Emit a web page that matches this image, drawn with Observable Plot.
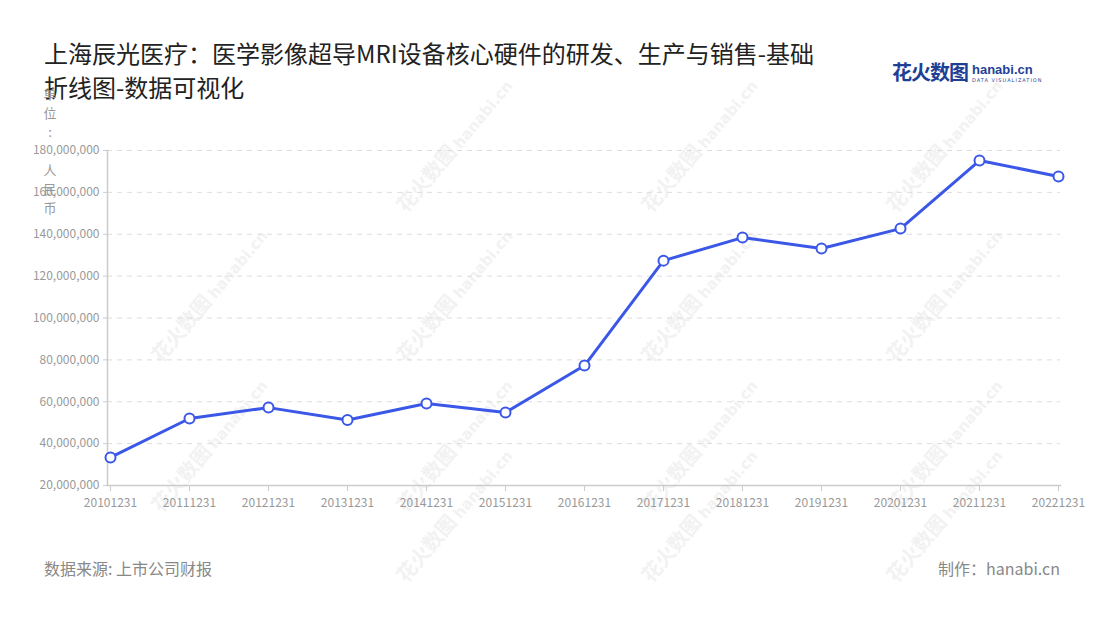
<!DOCTYPE html>
<html>
<head>
<meta charset="utf-8">
<script src="https://cdn.jsdelivr.net/npm/d3@7"></script>
<script src="https://cdn.jsdelivr.net/npm/@observablehq/plot@0.6"></script>
<style>
  body { margin: 0; background: #fff; font-family: "Noto Sans CJK SC", "Noto Sans", sans-serif; }
  #wrap { position: relative; width: 1100px; height: 620px; overflow: hidden; background: #fff; }
  #title { position: absolute; left: 44px; top: 36px; width: 790px; font-size: 24px; line-height: 34px; color: #222; }
  #unit { position: absolute; left: 42px; top: 84px; width: 16px; font-size: 13px; line-height: 19px; color: #999; text-align: center; z-index: 2; }
  #logo { position: absolute; left: 892px; top: 60px; white-space: nowrap; }
  #logo .cn { font-size: 20px; font-weight: 700; color: #1f3f95; letter-spacing: -1px; vertical-align: top; line-height: 24px; }
  #logo .en { display: inline-block; vertical-align: top; margin-left: 4px; margin-top: 3px; }
  #logo .en1 { font-family: "Liberation Sans", sans-serif; font-size: 13px; font-weight: bold; color: #1f3f95; line-height: 13px; }
  #logo .en2 { font-family: "DejaVu Sans", sans-serif; font-size: 5px; color: #1f3f95; letter-spacing: 1px; line-height: 8px; }
  #chart { position: absolute; left: 0; top: 110px; }
  #src { position: absolute; left: 44px; top: 556px; font-size: 16px; color: #888; }
  #made { position: absolute; right: 40px; top: 556px; font-size: 16px; color: #888; }
  .wm { position: absolute; color: #f2f2f2; font-size: 20px; font-weight: 700; transform: rotate(-50deg); white-space: nowrap; z-index: 0; }
  .wm span { font-family: "DejaVu Sans", sans-serif; font-size: 15px; font-weight: bold; margin-left: 4px; }
</style>
</head>
<body>
<div id="wrap">
  <div id="title"></div>
  <div id="logo"><span class="cn">花火数图</span><span class="en"><div class="en1">hanabi.cn</div><div class="en2">DATA VISUALIZATION</div></span></div>
  <div id="wm"></div>
  <div id="chart"></div>
  <div id="unit"></div>
  <div id="src"></div>
  <div id="made"></div>
</div>
<script>
const titleText = "上海辰光医疗：医学影像超导MRI设备核心硬件的研发、生产与销售-基础折线图-数据可视化";
const unitText = ["单", "位", ":", "\u00a0", "人", "民", "币"];
const sourceText = "数据来源: 上市公司财报";
const madeText = "制作：hanabi.cn";

const dates = ["20101231","20111231","20121231","20131231","20141231","20151231","20161231","20171231","20181231","20191231","20201231","20211231","20221231"];
const values = [33400000, 52000000, 57200000, 51300000, 59200000, 54900000, 77300000, 127400000, 138400000, 133200000, 142700000, 175200000, 167600000];
const yTicks = [20000000, 40000000, 60000000, 80000000, 100000000, 120000000, 140000000, 160000000, 180000000];

document.getElementById("title").textContent = titleText;
document.getElementById("unit").innerHTML = unitText.map(c => `<div>${c}</div>`).join("");
document.getElementById("src").textContent = sourceText;
document.getElementById("made").textContent = madeText;

// faint watermarks
const wmPos = [[370,130],[615,130],[860,130],[125,280],[370,280],[615,280],[860,280],[125,430],[370,430],[615,430],[860,430],[370,500],[615,500],[860,500]];
document.getElementById("wm").innerHTML = wmPos.map(([x,y]) => `<div class="wm" style="left:${x}px;top:${y}px">花火数图<span>hanabi.cn</span></div>`).join("");

const data = dates.map((d, i) => ({date: d, value: values[i]}));
const blue = "#3a57e8";

const chart = Plot.plot({
  width: 1100,
  height: 420,
  marginTop: 40,
  marginBottom: 45,
  marginLeft: 107,
  marginRight: 40,
  style: { fontFamily: "'Noto Sans CJK SC', 'Noto Sans', sans-serif", fontSize: "12px", color: "#999", background: "transparent" },
  x: { type: "point", domain: dates, padding: 0, label: null },
  y: { domain: [20000000, 180000000], label: null },
  marks: [
    Plot.gridY(yTicks, { stroke: "#dddddd", strokeOpacity: 1, strokeDasharray: "5,5" }),
    Plot.frame({ anchor: "left", stroke: "#cccccc", strokeWidth: 1.5 }),
    Plot.frame({ anchor: "bottom", stroke: "#cccccc", strokeWidth: 1.5 }),
    Plot.axisY(yTicks, { tickSize: 4, tickPadding: 4, stroke: "#cccccc", fill: "#999", fontSize: 12, tickFormat: d3.format(","), label: null }),
    Plot.axisX({ tickSize: 6, tickPadding: 7, stroke: "#cccccc", fill: "#999", fontSize: 12, label: null }),
    Plot.line(data, { x: "date", y: "value", stroke: blue, strokeWidth: 3 }),
    Plot.dot(data, { x: "date", y: "value", r: 5, fill: "white", stroke: blue, strokeWidth: 2 })
  ]
});
document.getElementById("chart").appendChild(chart);
</script>
</body>
</html>
